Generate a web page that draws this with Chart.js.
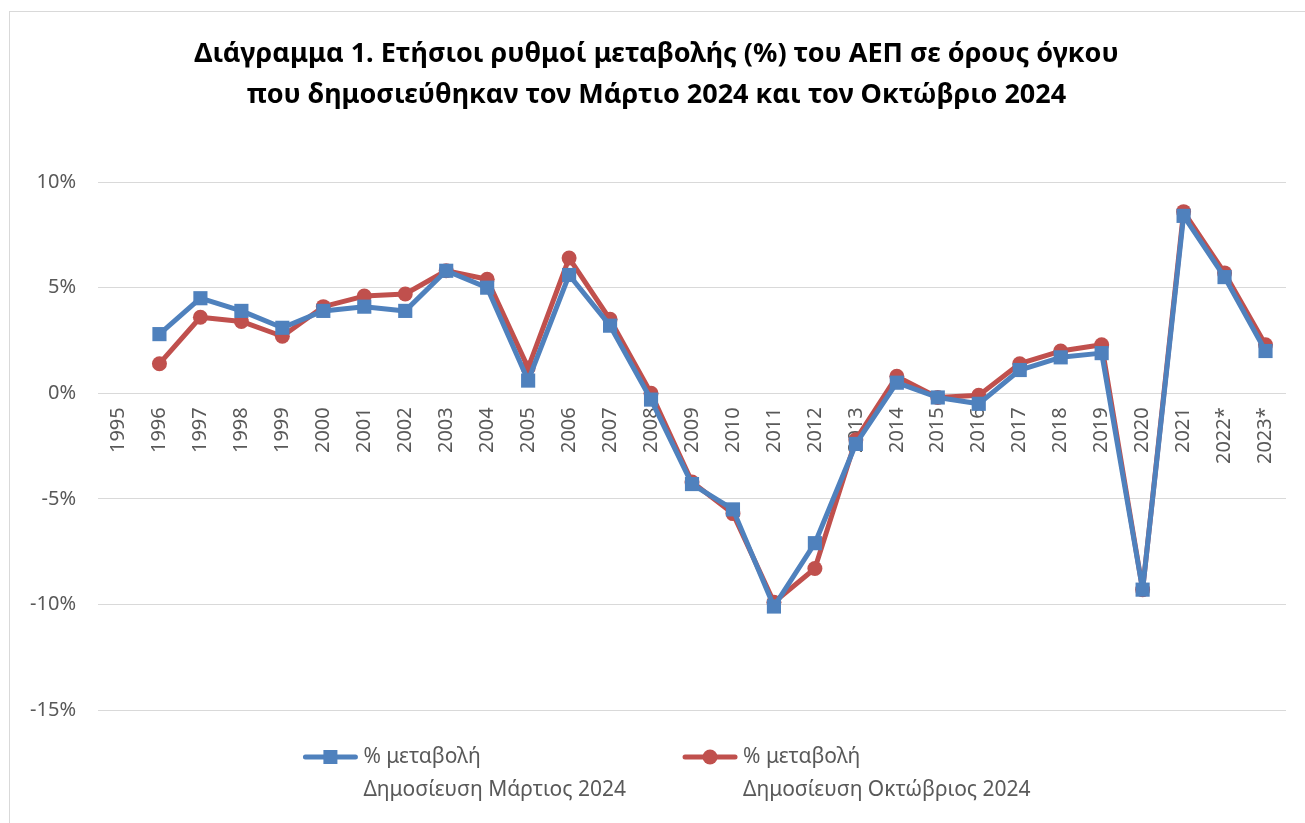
<!DOCTYPE html>
<html>
<head>
<meta charset="utf-8">
<script src="https://cdn.jsdelivr.net/npm/chart.js@4.4.1/dist/chart.umd.min.js"></script>
<style>
  html, body { margin: 0; padding: 0; background: #fff; overflow: hidden; }
  #wrap { position: relative; width: 1305px; height: 823px; }
  #frame { position: absolute; left: 9px; top: 11px; width: 1400px; height: 900px;
           border: 1px solid #d9d9d9; box-sizing: border-box; pointer-events: none; }
  canvas { position: absolute; left: 0; top: 0; }
</style>
</head>
<body>
<div id="wrap">
  <div id="frame"></div>
  <canvas id="gdp" width="1305" height="823"></canvas>
</div>
<script>
var years = ['1995', '1996', '1997', '1998', '1999', '2000', '2001', '2002', '2003', '2004',
             '2005', '2006', '2007', '2008', '2009', '2010', '2011', '2012', '2013', '2014',
             '2015', '2016', '2017', '2018', '2019', '2020', '2021', '2022*', '2023*']

// % μεταβολή, Δημοσίευση Μάρτιος 2024
var march2024 = [null, 2.8, 4.5, 3.9, 3.1, 3.9, 4.1, 3.9, 5.8, 5.0,
                 0.6, 5.6, 3.2, -0.3, -4.3, -5.5, -10.1, -7.1, -2.4, 0.5,
                 -0.2, -0.5, 1.1, 1.7, 1.9, -9.3, 8.4, 5.5, 2.0]

// % μεταβολή, Δημοσίευση Οκτώβριος 2024
var october2024 = [null, 1.4, 3.6, 3.4, 2.7, 4.1, 4.6, 4.7, 5.8, 5.4,
                   1.2, 6.4, 3.5, 0.0, -4.2, -5.7, -9.9, -8.3, -2.2, 0.8,
                   -0.2, -0.1, 1.4, 2.0, 2.3, -9.3, 8.6, 5.7, 2.3]

var legendLines = [
    ['% μεταβολή', 'Δημοσίευση Μάρτιος 2024'],
    ['% μεταβολή', 'Δημοσίευση Οκτώβριος 2024']
]

var blue = '#4f81bd'
var red = '#c0504d'
var grey = '#595959'
var fontName = "'Noto Sans', 'DejaVu Sans', sans-serif"

// legend drawn by hand (two text lines per entry): line + marker, then the text
var twoLineLegend = {
    id: 'twoLineLegend',
    afterDraw: function(chart) {
        var g = chart.ctx
        var sets = chart.data.datasets
        g.save()
        g.font = '21px ' + fontName
        g.textBaseline = 'middle'
        g.textAlign = 'left'
        var widths = sets.map(function(ds, i) {
            var w = 0
            legendLines[i].forEach(function(t) { w = Math.max(w, g.measureText(t).width) })
            return 56 + 5 + w
        })
        var total = widths[0] + 56 + widths[1]
        var x = chart.width / 2 + 14 - total / 2
        var y = chart.chartArea.bottom + 47
        sets.forEach(function(ds, i) {
            g.strokeStyle = ds.borderColor
            g.fillStyle = ds.borderColor
            g.lineWidth = 5
            g.lineCap = 'round'
            g.beginPath()
            g.moveTo(x + 3, y)
            g.lineTo(x + 53, y)
            g.stroke()
            if (ds.pointStyle === 'rect') {
                g.fillRect(x + 21, y - 7, 14, 14)
            } else {
                g.beginPath()
                g.arc(x + 28, y, 7.5, 0, Math.PI * 2)
                g.fill()
            }
            g.fillStyle = grey
            legendLines[i].forEach(function(t, k) {
                g.fillText(t, x + 61, y + k * 33)
            })
            x += widths[i] + 56
        })
        g.restore()
    }
}

var ctx = document.getElementById('gdp')
var chart = new Chart(ctx, {
    type: 'line',
    data: {
        labels: years,
        datasets: [
            {
                label: '% μεταβολή Δημοσίευση Μάρτιος 2024',
                data: march2024,
                borderColor: blue,
                backgroundColor: blue,
                borderWidth: 5,
                borderJoinStyle: 'round',
                borderCapStyle: 'round',
                pointStyle: 'rect',
                pointRadius: 10,
                pointBorderWidth: 0
            },
            {
                label: '% μεταβολή Δημοσίευση Οκτώβριος 2024',
                data: october2024,
                borderColor: red,
                backgroundColor: red,
                borderWidth: 5,
                borderJoinStyle: 'round',
                borderCapStyle: 'round',
                pointStyle: 'circle',
                pointRadius: 7.5,
                pointBorderWidth: 0
            }
        ]
    },
    options: {
        responsive: false,
        animation: false,
        layout: {
            padding: { left: 27, right: 19, top: 25, bottom: 113 }
        },
        plugins: {
            title: {
                display: true,
                text: ['Διάγραμμα 1. Ετήσιοι ρυθμοί μεταβολής (%) του ΑΕΠ σε όρους όγκου',
                       'που δημοσιεύθηκαν τον Μάρτιο 2024 και τον Οκτώβριο 2024'],
                color: '#000',
                font: { family: fontName, size: 27, weight: 'bold', lineHeight: 1.52 },
                padding: { top: 9, bottom: 66 }
            },
            legend: { display: false },
            tooltip: { enabled: false }
        },
        scales: {
            x: {
                offset: true,
                position: { y: 0 },
                grid: { display: false, drawTicks: true, tickLength: 14 },
                border: { display: false },
                ticks: {
                    color: grey,
                    font: { family: fontName, size: 20, lineHeight: 0.9 },
                    minRotation: 90,
                    maxRotation: 90,
                    autoSkip: false,
                    padding: 0
                }
            },
            y: {
                min: -15,
                max: 10,
                afterFit: function(scale) {
                    scale.width = 71
                },
                grid: { color: '#d9d9d9', lineWidth: 1, drawTicks: false },
                border: { display: false },
                ticks: {
                    stepSize: 5,
                    color: grey,
                    font: { family: fontName, size: 20 },
                    padding: 22,
                    callback: function(value) {
                        return value + '%'
                    }
                }
            }
        }
    },
    plugins: [twoLineLegend]
});
</script>
</body>
</html>
